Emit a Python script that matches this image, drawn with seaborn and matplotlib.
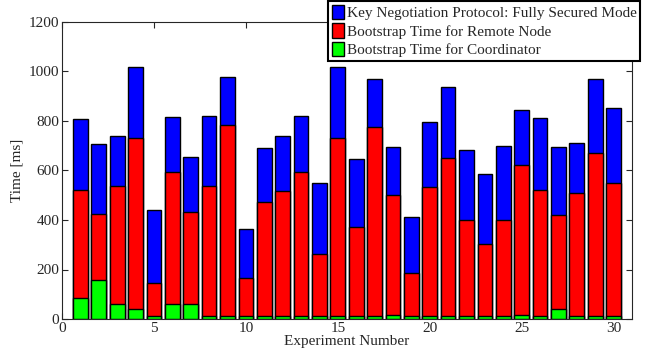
import numpy as np
import pandas as pd
import matplotlib
matplotlib.use("Agg")
import matplotlib.pyplot as plt
from matplotlib.patches import Patch
import seaborn as sns

experiments = list(range(1, 31))
coordinator = [84, 156, 61, 40, 11, 61, 61, 11, 11, 11, 11, 11, 11, 11, 11,
               11, 11, 15, 11, 11, 11, 11, 11, 11, 15, 11, 40, 11, 11, 11]
remote_node = [437, 267, 478, 690, 133, 534, 371, 528, 771, 153, 463, 505, 582, 250, 719,
               359, 765, 485, 174, 522, 638, 389, 291, 388, 607, 510, 380, 497, 658, 537]
key_negotiation = [287, 284, 202, 287, 296, 220, 221, 283, 194, 200, 216, 222, 226, 287, 287,
                   275, 194, 195, 226, 262, 287, 284, 285, 301, 221, 290, 274, 202, 301, 303]
labels = ["Key Negotiation Protocol: Fully Secured Mode",
          "Bootstrap Time for Remote Node",
          "Bootstrap Time for Coordinator"]

sns.set_style("ticks")
plt.rcParams['font.family'] = ['Liberation Serif', 'DejaVu Serif']

c = np.array(coordinator)
r = np.array(remote_node)
k = np.array(key_negotiation)
df = pd.DataFrame({"x": experiments, "green": c, "red": c + r, "blue": c + r + k})

fig = plt.figure(figsize=(6.57, 3.56), dpi=100)
ax = fig.add_axes([62/657, 1 - 319/356, (632-62)/657, (319-22)/356])

for col, colour in [("blue", "#0000ff"), ("red", "#ff0000"), ("green", "#00ff00")]:
    sns.barplot(data=df, x="x", y=col, native_scale=True, color=colour, saturation=1,
                width=0.8, edgecolor="black", linewidth=1.0, ax=ax)

ax.set_xlim(0, 31)
ax.set_ylim(0, 1200)
ax.set_xticks(range(0, 31, 5))
ax.set_yticks(range(0, 1201, 200))
ax.tick_params(direction="in", top=True, right=True, labelsize=11, length=4, width=0.8, pad=2)
for s in ax.spines.values():
    s.set_linewidth(0.8)
ax.set_xlabel("Experiment Number", fontsize=11, labelpad=0)
ax.set_ylabel("Time [ms]", fontsize=11, labelpad=4)

handles = [Patch(facecolor="#0000ff", edgecolor="black"),
           Patch(facecolor="#ff0000", edgecolor="black"),
           Patch(facecolor="#00ff00", edgecolor="black")]
leg = fig.legend(handles, labels, loc="upper right", bbox_to_anchor=(641/657, 1.0),
                 fontsize=11, frameon=True, fancybox=False, framealpha=1,
                 handlelength=0.8, handleheight=1.1, handletextpad=0.15,
                 labelspacing=0.2, borderpad=0.25, borderaxespad=0.05)
leg.get_frame().set_edgecolor("black")
leg.get_frame().set_linewidth(1.5)

fig.savefig("out.png", dpi=100)
